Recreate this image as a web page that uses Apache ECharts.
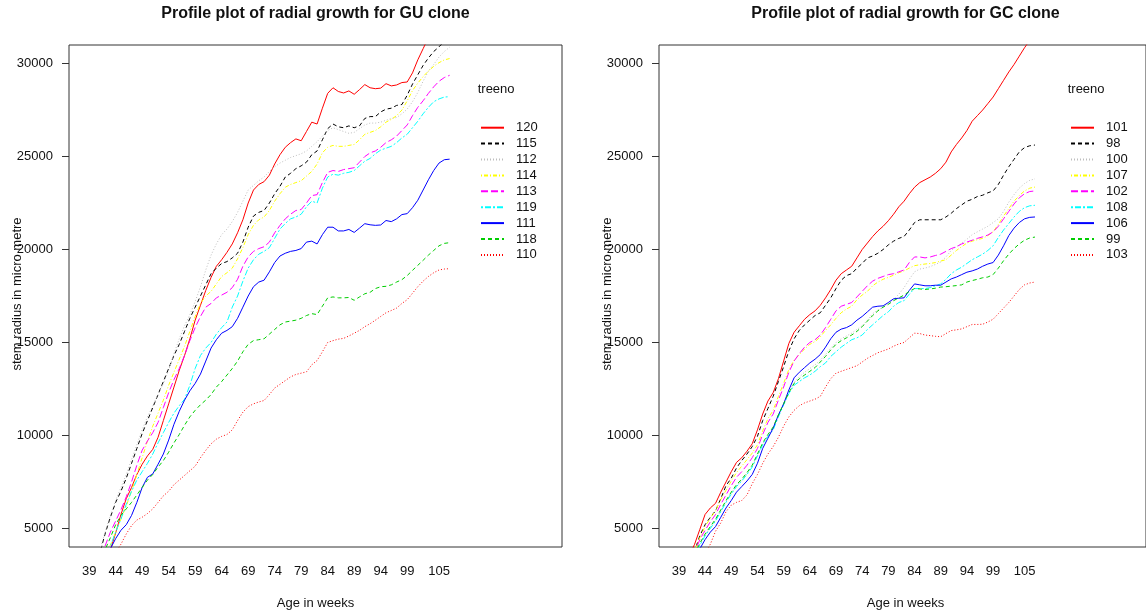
<!DOCTYPE html>
<html>
<head>
<meta charset="utf-8">
<script src="https://cdn.jsdelivr.net/npm/echarts@6/dist/echarts.min.js"></script>
<style>
html, body { margin: 0; padding: 0; background: #ffffff; }
#chart { width: 1146px; height: 613px; }
</style>
</head>
<body>
<div id="chart"></div>
<script>
// Age in weeks (one level per week)
const weeks = [39,40,41,42,43,44,45,46,47,48,
  49,50,51,52,53,54,55,56,57,58,
  59,60,61,62,63,64,65,66,67,68,
  69,70,71,72,73,74,75,76,77,78,
  79,80,81,82,83,84,85,86,87,88,
  89,90,91,92,93,94,95,96,97,98,
  99,100,101,102,103,104,105,106,107];

const xTickLabels = [39,44,49,54,59,64,69,74,79,84,89,94,99,105];
const yTickLabels = [5000,10000,15000,20000,25000,30000];

// ---- GU clone: mean stem radius (micro metre) per tree ----
const guTrees = ['120','115','112','114','113','119','111','118','110'];
const gu120 = [800,1600,2400,3200,3850,4750,5750,6600,7200,7900,
  8450,8900,9250,9900,10800,11700,12600,13500,14300,15200,
  16200,17000,17800,18500,19100,19450,19850,20300,20900,21600,
  22500,23200,23500,23650,24000,24600,25100,25500,25750,25950,
  25850,26350,26850,26750,27600,28400,28700,28500,28420,28530,
  28350,28600,28870,28700,28650,28680,28920,28800,28850,28980,
  29010,29500,30200,30800,31400,31900,32300,32600,32750];
const gu115 = [1300,2700,3650,4700,5600,6400,7000,7700,8500,9300,
  10100,10800,11500,12200,12900,13600,14300,14900,15600,16300,
  16900,17500,18100,18700,19000,19250,19350,19550,19800,20400,
  21200,21800,22000,22100,22500,23000,23400,23900,24100,24350,
  24500,24700,25100,25300,25900,26500,26750,26600,26550,26650,
  26550,26650,27050,27150,27150,27400,27550,27600,27750,27800,
  28300,28900,29400,29900,30300,30650,30900,31200,31300];
const gu112 = [1500,2800,3800,4800,5700,6500,7200,7900,8700,9500,
  10300,11000,11600,12200,12800,13500,14400,15200,15900,16500,
  17200,18000,18900,19700,20300,20800,21100,21500,22000,22600,
  23200,23450,23700,23900,24200,24450,24650,24800,24950,25050,
  25150,25300,25550,25800,26100,26400,26550,26450,26350,26250,
  26300,26500,26700,26800,26800,26850,26950,27050,27100,27300,
  27550,27950,28450,29050,29600,29950,30350,30650,30880];
const gu114 = [700,1800,2700,3600,4100,4800,5500,6200,7000,7900,
  8800,9700,10500,11200,11900,12700,13400,14100,14800,15600,
  16400,17100,17500,17750,18150,18550,18750,19000,19500,20100,
  20800,21300,21600,21750,22100,22600,23000,23350,23500,23600,
  23700,23950,24200,24600,25200,25500,25600,25550,25550,25600,
  25650,25900,26200,26300,26400,26600,26850,27000,27200,27500,
  28000,28550,28950,29300,29600,29850,30050,30200,30270];
const gu113 = [1500,2500,3400,4050,4800,5400,6000,6700,7500,8400,
  9200,9700,10150,10700,11500,12300,13000,13600,14300,15100,
  15800,16400,16900,17100,17400,17550,17700,17950,18400,19100,
  19600,19900,20050,20150,20400,20900,21300,21650,21900,22100,
  22150,22500,22900,22950,23600,24150,24250,24200,24300,24350,
  24400,24700,25000,25200,25300,25500,25750,25900,26100,26400,
  26700,27200,27650,28000,28400,28750,29050,29250,29370];
const gu119 = [400,1500,2500,3400,4050,4800,5500,6300,7000,7600,
  8050,8500,9000,9600,10150,10700,11200,11600,11950,12700,
  13600,14300,14700,15000,15450,15800,16100,16900,17500,18300,
  19000,19450,19750,19900,20100,20600,21100,21400,21650,21750,
  21900,22300,22600,22500,23300,23900,24050,24000,24100,24150,
  24250,24500,24750,24900,25150,25350,25450,25550,25750,26000,
  26200,26550,26900,27300,27650,27950,28100,28200,28220];
const gu111 = [1000,1700,2500,3300,3900,4450,4900,5200,5700,6400,
  7200,7750,7930,8450,9000,9750,10600,11300,11900,12400,
  12800,13300,14000,14700,15150,15500,15650,15850,16300,16900,
  17500,18000,18250,18350,18800,19300,19650,19800,19900,19950,
  20050,20400,20450,20300,20800,21200,21200,21000,21000,21080,
  20920,21150,21390,21330,21300,21320,21560,21500,21650,21880,
  21930,22250,22650,23200,23750,24250,24650,24830,24860];
const gu118 = [1500,2400,3200,3850,4500,5200,5700,6050,6400,6800,
  7200,7600,7900,8300,8650,9100,9600,10050,10550,11000,
  11350,11650,11900,12200,12600,12900,13250,13600,14000,14500,
  14900,15100,15150,15200,15450,15700,15950,16100,16150,16200,
  16300,16450,16550,16500,16950,17400,17450,17400,17400,17420,
  17270,17450,17620,17700,17900,18000,18020,18100,18250,18380,
  18600,18880,19150,19420,19700,19950,20200,20330,20370];
const gu110 = [1000,1700,2300,2900,3400,3700,4150,4700,5150,5450,
  5600,5800,6050,6400,6750,7000,7350,7600,7850,8100,
  8350,8800,9200,9550,9800,9950,10050,10300,10800,11250,
  11550,11700,11800,11880,12200,12550,12750,12950,13150,13280,
  13350,13420,13800,14030,14500,15000,15100,15180,15220,15350,
  15500,15650,15850,16010,16200,16400,16600,16720,16850,17100,
  17300,17650,18000,18300,18550,18750,18900,18950,18970];

// ---- GC clone ----
const gcTrees = ['101','98','100','107','102','108','106','99','103'];
const gc101 = [2000,2800,3550,4150,4950,5750,6100,6350,6950,7500,
  8050,8550,8800,9150,9550,10300,11150,11850,12300,13050,
  14000,14950,15550,15900,16250,16500,16700,17000,17400,17850,
  18350,18700,18900,19100,19550,20000,20350,20700,21000,21250,
  21550,21900,22300,22600,23000,23350,23600,23750,23900,24100,
  24350,24700,25250,25650,26000,26400,26900,27200,27500,27850,
  28200,28650,29100,29550,29950,30400,30850,31250,31600];
const gc98 = [1200,2300,3300,3800,4600,5200,5600,5950,6600,7300,
  7700,8250,8650,9000,9400,9950,10800,11450,12100,12900,
  13700,14550,15200,15650,15950,16200,16450,16600,17000,17400,
  17900,18350,18600,18700,19000,19250,19550,19650,19800,20000,
  20250,20450,20600,20700,21050,21450,21600,21600,21600,21600,
  21600,21750,21950,22200,22400,22600,22700,22850,22920,23050,
  23150,23500,24000,24450,24850,25250,25480,25580,25620];
const gc100 = [600,1700,2700,3500,4150,4650,5050,5450,5950,6450,
  6900,7300,7600,7950,8350,8950,9550,10000,10400,11050,
  11700,12350,12850,13150,13400,13600,13800,14050,14350,14700,
  15000,15200,15350,15500,15700,15900,16200,16550,16750,16900,
  17100,17300,17600,17950,18400,18800,18950,19000,19080,19200,
  19330,19600,19950,20150,20350,20550,20800,20950,21100,21250,
  21450,21650,22050,22550,22950,23300,23550,23720,23800];
const gc107 = [1000,2000,3000,3800,4500,5100,5550,5950,6550,7050,
  7550,8000,8350,8700,9050,9500,10250,10900,11350,12100,
  12800,13550,14050,14350,14650,14900,15050,15300,15650,15950,
  16300,16600,16800,16950,17300,17550,17750,18050,18250,18400,
  18500,18620,18750,18850,19000,19130,19180,19220,19250,19300,
  19380,19450,19700,19950,20150,20350,20450,20530,20600,20750,
  20950,21350,21800,22200,22600,22900,23150,23300,23360];
const gc102 = [1000,2000,3000,3700,4400,4900,5350,5750,6300,6800,
  7300,7750,8050,8400,8800,9300,10050,10700,11150,11900,
  12600,13400,14000,14400,14750,15000,15150,15400,15800,16250,
  16700,16950,17050,17150,17450,17750,18050,18300,18450,18550,
  18650,18700,18800,18900,19300,19600,19600,19550,19600,19680,
  19750,19900,20050,20150,20300,20400,20500,20600,20680,20780,
  20950,21250,21650,22050,22450,22780,23000,23120,23150];
const gc108 = [500,1600,2600,3500,4100,4600,5000,5400,5900,6400,
  6850,7250,7550,7900,8300,8900,9500,9950,10300,11000,
  11650,12250,12700,12900,13100,13250,13450,13700,13900,14250,
  14500,14750,14950,15150,15250,15400,15700,15950,16200,16450,
  16650,16950,17150,17250,17600,17900,17900,17900,17950,18050,
  18150,18400,18700,18900,19050,19250,19450,19600,19750,19950,
  20200,20650,21050,21400,21750,22050,22250,22350,22380];
const gc106 = [600,1500,2500,3300,3900,4400,4800,5100,5600,6100,
  6500,6950,7250,7550,7900,8500,9300,9850,10400,11100,
  11700,12450,13100,13400,13650,13900,14100,14350,14750,15200,
  15550,15720,15800,15950,16200,16400,16650,16900,16950,16970,
  17150,17350,17380,17400,17800,18150,18100,18050,18050,18080,
  18080,18250,18420,18520,18650,18780,18850,18950,19100,19220,
  19300,19700,20200,20750,21150,21450,21650,21730,21750];
const gc99 = [700,1800,2800,3600,4200,4700,5100,5500,6000,6500,
  6950,7350,7650,8000,8400,9000,9600,10050,10450,11100,
  11700,12300,12800,13050,13250,13450,13650,13950,14250,14600,
  14900,15100,15250,15400,15600,15850,16150,16450,16700,16900,
  17050,17250,17400,17550,17750,17900,17880,17850,17880,17920,
  17980,18000,18030,18060,18100,18250,18330,18400,18480,18520,
  18650,19000,19400,19750,20050,20300,20500,20620,20670];
const gc103 = [800,1500,2200,2800,3300,3650,4150,4850,5300,5900,
  6250,6400,6500,6800,7400,7900,8500,9000,9400,9900,
  10500,11000,11350,11600,11750,11850,11950,12100,12600,13050,
  13350,13450,13550,13650,13750,13950,14150,14300,14450,14550,
  14650,14800,14920,15000,15250,15500,15480,15400,15370,15330,
  15310,15480,15640,15680,15730,15850,15970,15970,15980,16100,
  16250,16550,16850,17150,17500,17850,18100,18200,18250];

const guValues = [gu120, gu115, gu112, gu114, gu113, gu119, gu111, gu118, gu110];
const gcValues = [gc101, gc98, gc100, gc107, gc102, gc108, gc106, gc99, gc103];

// Colour and line type cycle used for the trees of each clone
const lineColors = ['#ff0000','#000000','#bebebe','#ffff00','#ff00ff','#00ffff','#0000ff','#00cd00','#ff0000'];
const lineDashes = ['solid',[4,3],[1,2],[1,2,4,2],[7,3],[2,2,6,2],'solid',[4,3],[1,2]];

const FONT = '"Liberation Sans", Arial, Helvetica, sans-serif';
const TXT = '#111111';

const panels = [
  { title: 'Profile plot of radial growth for GU clone', trees: guTrees, values: guValues, left: 69 },
  { title: 'Profile plot of radial growth for GC clone', trees: gcTrees, values: gcValues, left: 659 }
];
const PLOT_W = 493, PLOT_TOP = 45, PLOT_H = 502;

const grids = [], xAxes = [], yAxes = [], series = [], legends = [], graphics = [];
const plainNumber = function (v) { return String(v); };

panels.forEach(function (p, k) {
  grids.push({
    left: p.left, top: PLOT_TOP, width: PLOT_W, height: PLOT_H,
    show: true, borderColor: '#333333', borderWidth: 1, backgroundColor: 'transparent'
  });
  xAxes.push({
    type: 'value', gridIndex: k, min: 35.2, max: 128.2,
    axisLine: { show: false }, axisTick: { show: false }, splitLine: { show: false },
    axisLabel: {
      customValues: xTickLabels, formatter: plainNumber,
      margin: 18, fontSize: 13, color: TXT, fontFamily: FONT
    }
  });
  yAxes.push({
    type: 'value', gridIndex: k, min: 4000, max: 31000,
    axisLine: { show: false }, splitLine: { show: false },
    axisTick: { show: true, length: 7, customValues: yTickLabels, lineStyle: { color: '#333333', width: 1 } },
    axisLabel: { customValues: yTickLabels, formatter: plainNumber, margin: 16, fontSize: 13, color: TXT, fontFamily: FONT }
  });
  p.trees.forEach(function (name, i) {
    series.push({
      name: name, type: 'line', xAxisIndex: k, yAxisIndex: k,
      data: weeks.map(function (w, j) { return [w, p.values[i][j]]; }),
      symbol: 'none', showSymbol: false, clip: true, silent: true,
      lineStyle: { color: lineColors[i], width: 1, type: lineDashes[i] },
      itemStyle: { color: lineColors[i] }
    });
  });
  legends.push({
    data: p.trees, orient: 'vertical', left: p.left + 411, top: 120.7, padding: 0,
    itemWidth: 23, itemHeight: 14, itemGap: 1.9, selectedMode: false,
    itemStyle: { opacity: 0, borderWidth: 0 },
    textStyle: { fontSize: 13, color: TXT, fontFamily: FONT, lineHeight: 14, padding: [0, 0, 0, 7] }
  });
  const cx = p.left + PLOT_W / 2;
  graphics.push(
    { type: 'text', x: cx, y: 14, style: { text: p.title, font: 'bold 16px ' + FONT, fill: TXT, align: 'center', verticalAlign: 'middle' } },
    { type: 'text', x: cx, y: 603, style: { text: 'Age in weeks', font: '13px ' + FONT, fill: TXT, align: 'center', verticalAlign: 'middle' } },
    { type: 'text', x: p.left - 51.5, y: 294, rotation: Math.PI / 2, style: { text: 'stem radius in micro metre', font: '13px ' + FONT, fill: TXT, align: 'center', verticalAlign: 'middle' } },
    { type: 'text', x: p.left + 408.7, y: 89, style: { text: 'treeno', font: '13px ' + FONT, fill: TXT, align: 'left', verticalAlign: 'middle' } }
  );
});

const chart = echarts.init(document.getElementById('chart'), null, { renderer: 'canvas' });
chart.setOption({
  animation: false,
  backgroundColor: '#ffffff',
  grid: grids,
  xAxis: xAxes,
  yAxis: yAxes,
  legend: legends,
  series: series,
  graphic: graphics
});
</script>
</body>
</html>
